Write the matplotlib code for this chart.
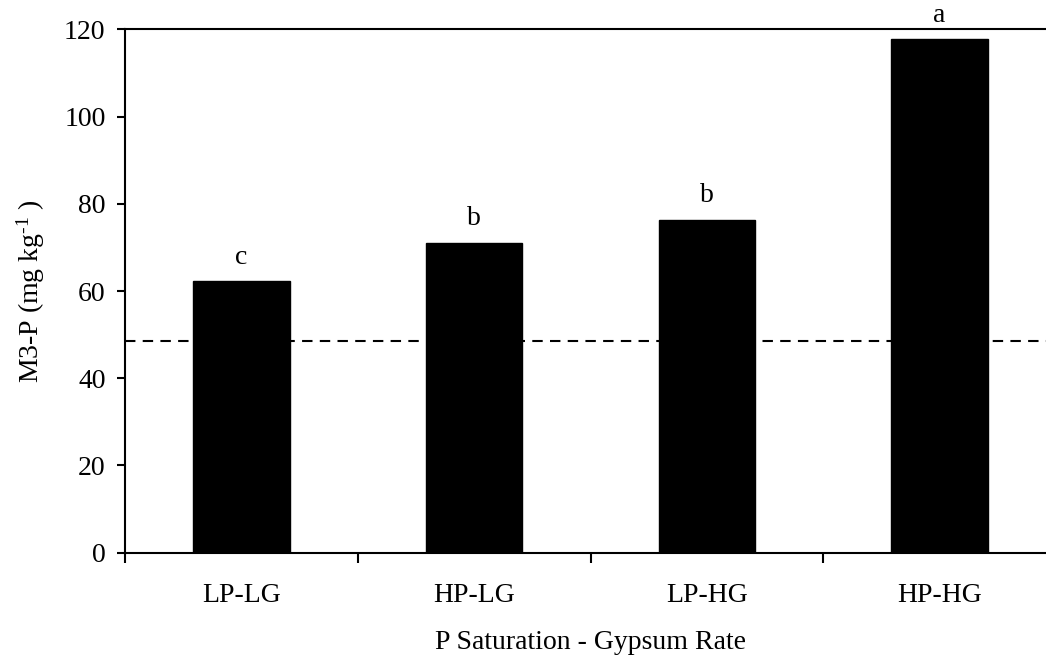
import numpy as np
import matplotlib
matplotlib.use("Agg")
import matplotlib.pyplot as plt

# --- data ---
treatments = ["LP-LG", "HP-LG", "LP-HG", "HP-HG"]
m3p = [62.2, 71.0, 76.3, 117.7]
letters = ["c", "b", "b", "a"]
threshold = 48.5

plt.rcParams["font.family"] = ["Liberation Serif", "DejaVu Serif"]
plt.rcParams["mathtext.fontset"] = "custom"
plt.rcParams["mathtext.rm"] = "Liberation Serif"
plt.rcParams["mathtext.it"] = "Liberation Serif:italic"

FS = 20

fig = plt.figure(figsize=(10.46, 6.61), dpi=100)
ax = fig.add_axes([125 / 1046, 1 - 552.7 / 661, (1056 - 125) / 1046, 523.4 / 661])

x = np.arange(len(treatments))
ax.bar(x, m3p, width=0.415, color="black", edgecolor="black", zorder=2)
ax.axhline(threshold, color="black", lw=1.5, ls=(0, (5, 3.5)), zorder=3)

for xi, v, lab in zip(x, m3p, letters):
    ax.annotate(lab, (xi, v), xytext=(0, 8.5), textcoords="offset points",
                ha="center", va="bottom", fontsize=FS)

ax.set_xlim(-0.5, len(treatments) - 0.5)
ax.set_ylim(0, 120)
ax.set_yticks(np.arange(0, 121, 20))

# ticks between categories, labels at category centres
ax.set_xticks(np.arange(-0.5, len(treatments) - 0.5, 1.0))
ax.set_xticklabels([])
ax.set_xticks(x, minor=True)
ax.set_xticklabels(treatments, minor=True)
ax.tick_params(axis="x", which="minor", length=0, pad=22, labelsize=FS)
ax.tick_params(axis="x", which="major", direction="out", length=7, width=1.5)
ax.tick_params(axis="y", direction="out", length=6, width=1.5, pad=8, labelsize=FS)

for s in ax.spines.values():
    s.set_linewidth(1.5)

ax.set_ylabel(r"M3-P (mg kg$^{\text{-}1}$ )", fontsize=FS, labelpad=12)
ax.set_xlabel("P Saturation - Gypsum Rate", fontsize=FS, labelpad=16)

fig.savefig("out.png", dpi=100)
